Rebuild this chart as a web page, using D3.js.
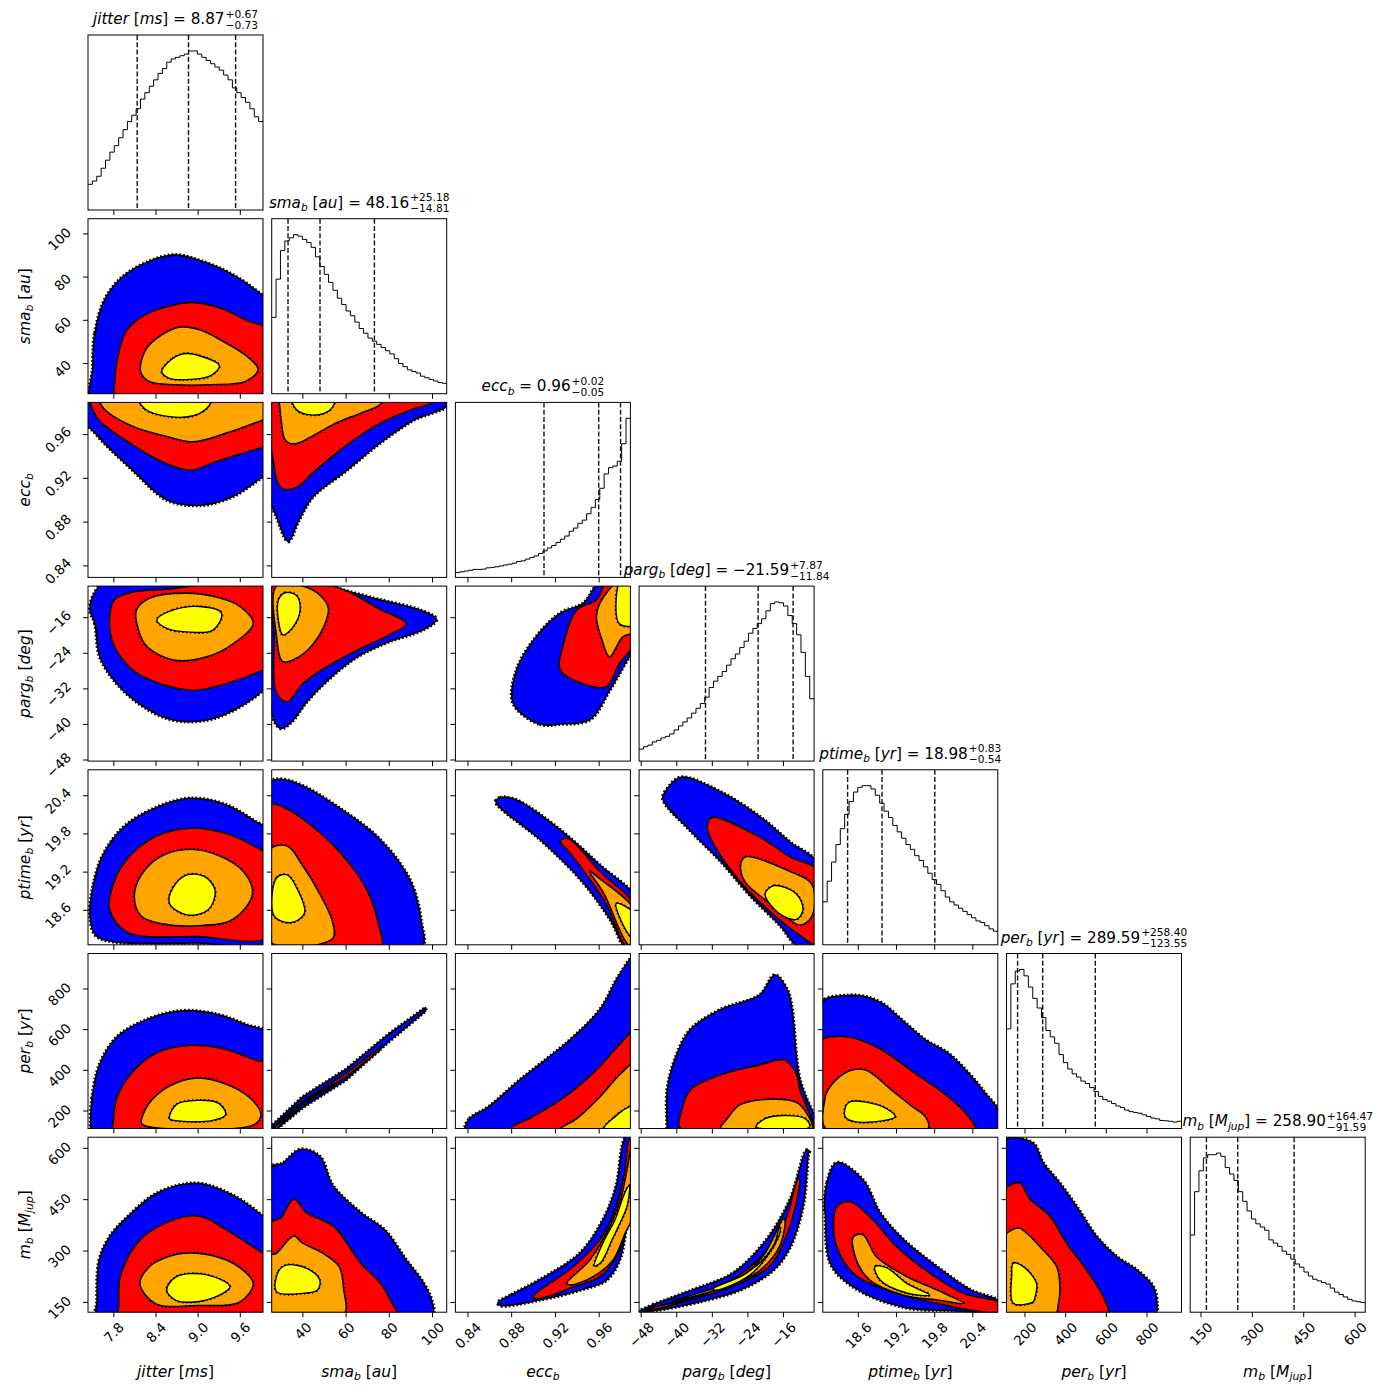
<!DOCTYPE html>
<html>
<head>
<meta charset="utf-8">
<script src="https://cdn.jsdelivr.net/npm/d3@7"></script>
<style>
body { margin: 0; background: #fff; }
svg text { font-family: "DejaVu Sans", sans-serif; fill: #000; }
</style>
</head>
<body>
<svg id="chart" width="1400" height="1400"></svg>
<script>
// ---- parameters (order = corner order) ----
var labelSegs = [
    [["jitter", "i"], [" [", "n"], ["ms", "i"], ["]", "n"]],
    [["sma", "i"], ["b", "s"], [" [", "n"], ["au", "i"], ["]", "n"]],
    [["ecc", "i"], ["b", "s"]],
    [["parg", "i"], ["b", "s"], [" [", "n"], ["deg", "i"], ["]", "n"]],
    [["ptime", "i"], ["b", "s"], [" [", "n"], ["yr", "i"], ["]", "n"]],
    [["per", "i"], ["b", "s"], [" [", "n"], ["yr", "i"], ["]", "n"]],
    [["m", "i"], ["b", "s"], [" [", "n"], ["M", "i"], ["jup", "s"], ["]", "n"]]
];
var domains = [[7.44, 9.93], [25.8, 106.8], [0.829, 0.989], [-48.36, -9.0], [18.05, 20.8], [111.5, 972], [120, 631]];
var tickValues = [
    [7.8, 8.4, 9.0, 9.6], [40, 60, 80, 100], [0.84, 0.88, 0.92, 0.96],
    [-48, -40, -32, -24, -16], [18.6, 19.2, 19.8, 20.4], [200, 400, 600, 800], [150, 300, 450, 600]
];
var tickLabels = [
    ["7.8", "8.4", "9.0", "9.6"], ["40", "60", "80", "100"], ["0.84", "0.88", "0.92", "0.96"],
    ["\u221248", "\u221240", "\u221232", "\u221224", "\u221216"], ["18.6", "19.2", "19.8", "20.4"],
    ["200", "400", "600", "800"], ["150", "300", "450", "600"]
];
var medians = ["8.87", "48.16", "0.96", "\u221221.59", "18.98", "289.59", "258.90"];
var errPlus = ["0.67", "25.18", "0.02", "7.87", "0.83", "258.40", "164.47"];
var errMinus = ["0.73", "14.81", "0.05", "11.84", "0.54", "123.55", "91.59"];
var q16 = [8.14, 33.35, 0.91, -33.43, 18.44, 166.04, 167.31];
var q50 = [8.87, 48.16, 0.96, -21.59, 18.98, 289.59, 258.90];
var q84 = [9.54, 73.34, 0.98, -13.72, 19.81, 547.99, 423.37];

// ---- 1D histograms (relative counts, 40 bins over the axis range) ----
var hJitter = [16, 18, 21, 26, 31, 36, 40, 45, 50, 55, 59, 63, 69, 73, 77, 81, 85, 88, 92, 94, 95, 96, 97, 99, 99, 97, 95, 93, 91, 89, 87, 84, 81, 76, 73, 70, 67, 63, 58, 55];
var hSma = [48, 72, 90, 96, 98, 100, 99, 97, 95, 92, 86, 80, 75, 70, 65, 60, 56, 52, 49, 45, 41, 38, 35, 33, 31, 29, 27, 25, 22, 19, 17, 15, 14, 13, 11, 10, 9, 8, 7, 6.5];
var hEcc = [3, 3.5, 4, 4.5, 5, 5, 5.2, 6, 6.3, 6.7, 7.2, 7.8, 8.3, 9, 10, 10.4, 11.5, 12.5, 13.5, 15, 16.7, 18.5, 20, 22, 24, 26, 29, 31, 34, 36, 40, 44, 49, 56, 65, 69, 70, 73, 84, 100];
var hParg = [7.5, 9, 10, 12, 13, 14.5, 15.5, 17, 19.5, 22, 24.5, 27, 30, 33, 36, 40, 46, 50, 53, 56, 60, 64, 67, 71, 75, 80, 83, 86, 89, 94, 98.5, 99.5, 99, 97, 91, 86, 79, 68, 53, 39];
var hPtime = [27, 40, 52, 63, 73, 82, 90, 96, 99, 100, 100, 98, 94, 89, 84, 80, 75, 71, 67, 63, 60, 56, 53, 49, 45, 41, 38, 34, 30, 27, 25, 23, 21, 19, 17, 15, 14, 12, 10, 8.5];
var hPer = [62, 90, 98, 99, 95, 88, 81, 75, 69, 61, 57, 53, 46, 41, 37, 34, 32, 29.5, 28, 25.5, 23, 20, 18, 17, 15.5, 14, 13, 11.5, 10.5, 10, 9.5, 8.5, 7.5, 6.5, 6, 5, 4.8, 4.5, 4, 4.5];
var hM = [48, 75, 88, 96, 98, 98, 99, 97, 90, 86, 82, 75, 69, 63, 58, 55, 53, 51, 45, 43, 41, 38, 36, 33, 30, 28, 25, 22.5, 20.5, 19.5, 18.5, 17.5, 15, 12.5, 11, 9.5, 8, 7, 6.5, 6];
var hists = [hJitter, hSma, hEcc, hParg, hPtime, hPer, hM];

// ---- 2D contour outlines [x, y] in data units: blue (outer), red, orange, yellow ----
var ctrSmaJitter = [
    [[7.51, 38], [7.54, 54], [7.69, 70], [7.94, 80], [8.31, 87], [8.69, 90], [9.06, 87], [9.43, 82], [9.81, 74], [10.05, 66], [10.05, 20], [7.51, 20]],
    [[7.81, 26], [7.86, 42], [7.99, 55], [8.24, 62], [8.56, 66], [8.93, 68], [9.31, 65.5], [9.68, 60], [10.05, 54], [10.05, 20], [7.81, 20]],
    [[8.19, 36], [8.26, 46], [8.49, 53], [8.76, 56.6], [9.06, 55], [9.36, 50], [9.68, 43.6], [9.86, 37], [9.68, 31.5], [9.18, 30], [8.69, 30], [8.31, 31.5]],
    [[8.49, 36], [8.64, 42], [8.83, 44.4], [9.08, 42.8], [9.31, 38.8], [9.18, 34], [8.83, 32.3], [8.59, 33]]
];
var ctrEccJitter = [
    [[7.3, 0.995], [7.3, 0.97], [7.44, 0.967], [7.7, 0.95], [8.08, 0.927], [8.56, 0.9], [9.03, 0.895], [9.5, 0.903], [9.93, 0.921], [10.05, 0.925], [10.05, 0.995]],
    [[7.5, 0.995], [7.56, 0.976], [8.08, 0.95], [8.56, 0.933], [8.89, 0.927], [9.27, 0.935], [9.93, 0.948], [10.05, 0.95], [10.05, 0.995]],
    [[7.6, 0.995], [7.66, 0.984], [8.08, 0.967], [8.56, 0.958], [8.94, 0.953], [9.41, 0.961], [9.93, 0.973], [10.05, 0.976], [10.05, 0.995]],
    [[8.15, 0.995], [8.25, 0.983], [8.6, 0.976], [8.95, 0.977], [9.15, 0.985], [9.2, 0.995]]
];
var ctrPargJitter = [
    [[7.47, -14.4], [7.54, -17.4], [7.61, -24.9], [7.85, -30.9], [8.23, -36.1], [8.65, -39.1], [9.13, -39.1], [9.51, -36.9], [9.93, -32.4], [10.05, -30], [10.05, -8], [7.7, -8], [7.52, -11]],
    [[7.82, -12], [7.75, -15.9], [7.8, -21.9], [8.08, -27.9], [8.46, -30.9], [8.94, -32.4], [9.41, -30.9], [9.93, -27.9], [10.05, -27], [10.05, -9.6], [8.5, -9.8], [8.1, -10.3]],
    [[8.13, -14.4], [8.32, -11.7], [8.84, -10.6], [9.32, -11.7], [9.6, -13.6], [9.79, -17.4], [9.51, -21.9], [9.13, -24.9], [8.65, -25.6], [8.28, -22.6], [8.16, -18.9]],
    [[8.42, -16.6], [8.65, -14.4], [9.03, -13.6], [9.34, -15.1], [9.22, -18.9], [8.84, -19.3], [8.56, -18.5]]
];
var ctrPtimeJitter = [
    [[7.47, 18.5], [7.52, 19.0], [7.65, 19.45], [7.95, 19.9], [8.4, 20.2], [8.9, 20.35], [9.4, 20.25], [9.8, 20.0], [10.05, 19.8], [10.05, 18.08], [9.0, 18.08], [7.8, 18.1], [7.55, 18.2]],
    [[7.75, 18.6], [7.8, 19.0], [8.0, 19.4], [8.4, 19.75], [8.9, 19.88], [9.4, 19.8], [9.8, 19.6], [10.05, 19.4], [10.05, 18.2], [9.0, 18.18], [8.0, 18.25]],
    [[8.1, 18.8], [8.2, 19.15], [8.5, 19.45], [8.9, 19.55], [9.3, 19.45], [9.65, 19.2], [9.78, 18.85], [9.5, 18.45], [9.0, 18.35], [8.5, 18.38], [8.2, 18.5]],
    [[8.6, 18.7], [8.65, 18.95], [8.85, 19.15], [9.1, 19.12], [9.25, 18.9], [9.15, 18.6], [8.85, 18.52]]
];
var ctrPerJitter = [
    [[7.48, 140], [7.5, 260], [7.6, 420], [7.85, 560], [8.3, 650], [8.8, 690], [9.3, 670], [9.7, 620], [10.05, 570], [10.05, 100], [7.5, 100]],
    [[7.8, 140], [7.85, 260], [8.05, 380], [8.4, 480], [8.9, 520], [9.4, 500], [9.8, 450], [10.05, 420], [10.05, 100], [7.8, 100]],
    [[8.2, 140], [8.3, 230], [8.6, 320], [9.0, 360], [9.4, 330], [9.75, 260], [9.9, 180], [9.8, 130], [8.25, 125]],
    [[8.6, 160], [8.7, 230], [9.0, 250], [9.3, 235], [9.4, 180], [9.2, 150], [8.7, 150]]
];
var ctrMJitter = [
    [[7.57, 150], [7.6, 270], [7.75, 340], [7.99, 395], [8.42, 467], [8.99, 496], [9.51, 460], [9.93, 400], [10.05, 380], [10.05, 110], [7.57, 110]],
    [[7.88, 140], [7.9, 224], [8.18, 331], [8.65, 389], [9.03, 400], [9.41, 360], [9.93, 292], [10.05, 280], [10.05, 110], [7.88, 110]],
    [[8.18, 204], [8.3, 250], [8.46, 272], [8.8, 292], [9.27, 282], [9.6, 250], [9.79, 204], [9.6, 150], [9.0, 140], [8.4, 145]],
    [[8.56, 185], [8.7, 224], [9.13, 229], [9.46, 194], [9.13, 156], [8.7, 154]]
];
var ctrEccSma = [
    [[25, 0.995], [25, 0.9], [28, 0.885], [33.5, 0.862], [38, 0.88], [45, 0.903], [60.5, 0.927], [76, 0.952], [91.5, 0.973], [107, 0.986], [108, 0.995]],
    [[27.5, 0.995], [27, 0.93], [29, 0.914], [31, 0.91], [37, 0.911], [45, 0.925], [60.5, 0.95], [76, 0.97], [91.5, 0.983], [100, 0.989], [100, 0.995]],
    [[29.5, 0.995], [29.6, 0.985], [30.4, 0.97], [32, 0.955], [35.8, 0.951], [43.5, 0.957], [54.3, 0.969], [66.7, 0.979], [76, 0.987], [78, 0.995]],
    [[35, 0.995], [37, 0.983], [42, 0.978], [50, 0.979], [54, 0.985], [55, 0.995]]
];
var ctrPargSma = [
    [[25, -8], [40, -8], [55, -9.5], [75, -12], [95, -14.5], [102, -16.5], [95, -19], [80, -21.5], [65, -25], [52, -30], [42, -35], [35, -39.5], [30, -41], [26, -38], [25, -30]],
    [[27, -8], [45, -8], [60, -10], [75, -14], [88, -17.5], [80, -20], [65, -23.5], [50, -27.5], [40, -31], [33, -35], [28, -33], [27, -20]],
    [[28, -9], [40, -9], [48, -11], [52, -14], [50, -18], [45, -22], [38, -25], [31, -26], [28, -20]],
    [[29, -12], [32, -10.5], [37, -11], [39, -14], [36, -18], [31, -20], [29, -17]]
];
var ctrPtimeSma = [
    [[25, 18.0], [25, 20.6], [30, 20.65], [40, 20.55], [57, 20.2], [76, 19.7], [90, 19.05], [95, 18.4], [95, 18.0]],
    [[25, 18.0], [25, 20.25], [32, 20.2], [45, 19.9], [60, 19.4], [70, 18.9], [75, 18.4], [76, 18.0]],
    [[25, 18.1], [25, 19.55], [33, 19.6], [40, 19.3], [48, 18.85], [54, 18.4], [54, 18.15]],
    [[27, 18.5], [28, 19.1], [33, 19.15], [38, 18.9], [41, 18.55], [35, 18.4]]
];
var ctrPerSma = [
    [[25, 115], [40, 265], [60, 400], [80, 575], [97, 705], [97, 690], [80, 540], [60, 350], [40, 215], [27, 100]],
    [[27, 120], [40, 245], [60, 380], [76, 510], [76, 498], [60, 365], [40, 232], [28, 108]],
    [[27, 115], [40, 240], [55, 335], [55, 328], [40, 234], [28, 110]],
    [[27, 113], [35, 190], [35, 186], [28, 110]]
];
var ctrMSma = [
    [[25, 110], [25, 540], [31, 555], [39, 595], [48, 575], [54, 490], [67, 410], [78, 360], [88, 272], [96, 205], [100, 150], [100, 110]],
    [[25, 110], [25, 380], [30, 395], [36, 450], [42, 410], [54.5, 370], [67, 263], [76, 205], [82, 140], [84, 110]],
    [[25, 110], [25, 285], [28, 292], [36, 342], [40, 322], [50, 290], [57, 253], [59, 190], [59, 110]],
    [[28, 180], [29, 240], [33, 258], [42, 248], [48, 215], [47, 185], [40, 175]]
];
var ctrPargEcc = [
    [[0.882, -35.4], [0.906, -40], [0.925, -40], [0.952, -39], [0.97, -32.4], [0.986, -25.6], [0.995, -22], [0.995, -8], [0.962, -8], [0.946, -12.9], [0.925, -15.1], [0.903, -20.4], [0.885, -27.9]],
    [[0.925, -27.9], [0.946, -31], [0.967, -31.6], [0.979, -26.4], [0.995, -21], [0.995, -8], [0.968, -8], [0.958, -12.1], [0.94, -14.4], [0.928, -21.9]],
    [[0.961, -12.9], [0.958, -16], [0.963, -21], [0.97, -24.9], [0.982, -20.4], [0.995, -19], [0.995, -8], [0.978, -8]],
    [[0.979, -17.5], [0.976, -12], [0.98, -8], [0.995, -8], [0.995, -17.5]]
];
var ctrPtimeEcc = [
    [[0.866, 20.3], [0.87, 20.36], [0.884, 20.33], [0.925, 19.85], [0.961, 19.3], [0.995, 18.75], [0.995, 18.0], [0.985, 18.0], [0.971, 18.44], [0.944, 19.07], [0.907, 19.7]],
    [[0.925, 19.68], [0.932, 19.72], [0.961, 19.2], [0.995, 18.62], [0.995, 18.0], [0.986, 18.0], [0.966, 18.72], [0.936, 19.45]],
    [[0.952, 19.2], [0.96, 19.1], [0.995, 18.55], [0.995, 18.0], [0.987, 18.05], [0.965, 18.85]],
    [[0.976, 18.7], [0.995, 18.5], [0.995, 18.1], [0.986, 18.25]]
];
var ctrPerEcc = [
    [[0.838, 120], [0.842, 160], [0.86, 220], [0.888, 350], [0.934, 547], [0.961, 694], [0.979, 866], [0.995, 970], [0.995, 100], [0.838, 100]],
    [[0.88, 115], [0.9, 170], [0.93, 270], [0.96, 410], [0.98, 530], [0.995, 600], [0.995, 100], [0.88, 100]],
    [[0.925, 110], [0.94, 160], [0.96, 260], [0.98, 380], [0.995, 440], [0.995, 100], [0.925, 100]],
    [[0.965, 115], [0.975, 170], [0.985, 210], [0.995, 230], [0.995, 100], [0.968, 100]]
];
var ctrMEcc = [
    [[0.868, 148], [0.88, 170], [0.906, 214], [0.943, 292], [0.964, 389], [0.976, 486], [0.984, 628], [0.992, 650], [0.992, 420], [0.987, 389], [0.979, 272], [0.967, 214], [0.943, 185], [0.906, 156], [0.87, 140]],
    [[0.9, 165], [0.937, 253], [0.961, 331], [0.976, 428], [0.984, 535], [0.988, 625], [0.991, 625], [0.991, 420], [0.985, 370], [0.976, 282], [0.961, 224], [0.937, 194], [0.905, 160]],
    [[0.931, 204], [0.952, 272], [0.967, 350], [0.979, 438], [0.986, 535], [0.99, 600], [0.991, 600], [0.991, 400], [0.984, 350], [0.973, 272], [0.955, 224], [0.935, 200]],
    [[0.956, 255], [0.965, 330], [0.975, 390], [0.984, 470], [0.988, 490], [0.986, 430], [0.978, 370], [0.972, 330], [0.962, 265]]
];
var ctrPtimeParg = [
    [[-43, 20.35], [-42, 20.5], [-39, 20.68], [-30, 20.45], [-21, 20.05], [-14.4, 19.66], [-8, 19.3], [-8, 18.0], [-12.2, 18.0], [-16.7, 18.36], [-23.4, 18.83], [-30.2, 19.38], [-36.9, 19.85]],
    [[-33, 19.9], [-32, 20.05], [-21.2, 19.74], [-14.4, 19.43], [-8, 19.2], [-8, 18.05], [-12.2, 18.2], [-19, 18.58], [-25.7, 19.05], [-31.3, 19.6]],
    [[-25.5, 19.3], [-24.5, 19.43], [-14.4, 19.2], [-9.5, 19.0], [-9.5, 18.5], [-12.2, 18.36], [-17.9, 18.65], [-24.5, 19.04]],
    [[-20, 18.85], [-18, 18.98], [-13, 18.85], [-11.5, 18.6], [-13, 18.45], [-17, 18.55]]
];
var ctrPerParg = [
    [[-42, 110], [-42, 300], [-40.3, 450], [-36.9, 595], [-30.2, 694], [-21.2, 768], [-17.8, 866], [-15, 790], [-14, 700], [-12.2, 350], [-9, 178], [-8, 140], [-8, 100], [-42, 100]],
    [[-39, 110], [-38.7, 203], [-36.9, 300], [-30.2, 374], [-21.2, 424], [-15.6, 448], [-13, 380], [-12.2, 300], [-9.5, 154], [-9, 110]],
    [[-30, 110], [-28.5, 160], [-25.7, 227], [-19, 255], [-13, 240], [-10.5, 180], [-9.5, 110]],
    [[-22, 120], [-20, 160], [-15, 175], [-11, 160], [-10, 120]]
];
var ctrMParg = [
    [[-48.5, 121], [-45.2, 141], [-36.2, 185], [-27.2, 234], [-19.7, 331], [-14.4, 448], [-10.7, 593], [-10.1, 590], [-10.3, 584], [-11.4, 438], [-14.4, 311], [-18.2, 243], [-25.7, 185], [-34.7, 151], [-44.4, 126]],
    [[-47, 127], [-44.4, 137], [-34.7, 166], [-25.7, 230], [-19.2, 305], [-15.2, 395], [-12.6, 510], [-12.3, 508], [-12.9, 448], [-15.2, 345], [-18.9, 256], [-27.2, 196], [-36.2, 158], [-44.4, 130]],
    [[-41, 152], [-33.2, 183], [-25.7, 220], [-20.4, 285], [-15.9, 392], [-15.6, 390], [-16.7, 315], [-21.2, 242], [-27.2, 202], [-36.2, 166]],
    [[-31.7, 188], [-24.2, 234], [-18.2, 310], [-16.8, 370], [-16.6, 360], [-17.6, 325], [-23.4, 229], [-31.3, 184]]
];
var ctrPerPtime = [
    [[18.0, 700], [18.08, 745], [18.4, 765], [18.71, 760], [18.98, 727], [19.29, 645], [19.66, 547], [20.02, 481], [20.34, 383], [20.6, 285], [20.85, 180], [20.85, 100], [18.0, 100]],
    [[18.0, 540], [18.24, 563], [18.55, 555], [18.98, 497], [19.5, 383], [20.02, 268], [20.34, 170], [20.45, 100], [18.0, 100]],
    [[18.08, 250], [18.13, 300], [18.39, 383], [18.71, 400], [19.13, 300], [19.45, 220], [19.66, 170], [19.7, 110], [18.1, 110]],
    [[18.42, 227], [18.5, 245], [18.98, 220], [19.19, 170], [19.0, 150], [18.55, 145], [18.4, 170]]
];
var ctrMPtime = [
    [[18.08, 420], [18.12, 500], [18.27, 556], [18.68, 506], [18.95, 409], [19.32, 331], [19.84, 253], [20.37, 185], [20.85, 148], [20.85, 118], [20.1, 125], [19.32, 135], [18.53, 194], [18.17, 263], [18.09, 409]],
    [[18.27, 428], [18.47, 443], [18.84, 389], [19.21, 311], [19.73, 234], [20.26, 175], [20.85, 145], [20.85, 122], [20.58, 121], [19.84, 146], [19.05, 185], [18.53, 234], [18.27, 311], [18.22, 380]],
    [[18.53, 340], [18.68, 346], [18.89, 282], [19.37, 224], [19.84, 185], [20.26, 146], [19.84, 156], [19.32, 170], [18.79, 214], [18.58, 272]],
    [[18.87, 253], [19.05, 250], [19.37, 204], [19.73, 170], [19.37, 176], [18.95, 214]]
];
var ctrMPer = [
    [[100, 600], [115, 625], [128, 630], [243, 613], [292, 555], [374, 496], [456, 428], [555, 340], [653, 282], [752, 243], [833, 194], [850, 150], [840, 110], [100, 110]],
    [[100, 480], [128, 490], [177, 498], [227, 450], [325, 400], [407, 321], [505, 243], [587, 165], [610, 110], [100, 110]],
    [[100, 340], [145, 362], [177, 365], [292, 301], [358, 253], [374, 185], [365, 140], [350, 110], [100, 110]],
    [[137, 224], [145, 263], [194, 253], [259, 204], [250, 160], [243, 150], [145, 146]]
];

// which contour set goes in which (row, col) panel
var contourPanels = [
    {r: 1, c: 0, lv: ctrSmaJitter}, {r: 2, c: 0, lv: ctrEccJitter}, {r: 3, c: 0, lv: ctrPargJitter},
    {r: 4, c: 0, lv: ctrPtimeJitter}, {r: 5, c: 0, lv: ctrPerJitter}, {r: 6, c: 0, lv: ctrMJitter},
    {r: 2, c: 1, lv: ctrEccSma}, {r: 3, c: 1, lv: ctrPargSma}, {r: 4, c: 1, lv: ctrPtimeSma},
    {r: 5, c: 1, lv: ctrPerSma, thin: true}, {r: 6, c: 1, lv: ctrMSma},
    {r: 3, c: 2, lv: ctrPargEcc}, {r: 4, c: 2, lv: ctrPtimeEcc}, {r: 5, c: 2, lv: ctrPerEcc}, {r: 6, c: 2, lv: ctrMEcc},
    {r: 4, c: 3, lv: ctrPtimeParg}, {r: 5, c: 3, lv: ctrPerParg}, {r: 6, c: 3, lv: ctrMParg},
    {r: 5, c: 4, lv: ctrPerPtime}, {r: 6, c: 4, lv: ctrMPtime},
    {r: 6, c: 5, lv: ctrMPer}
];
var levelColors = ["#0000ff", "#ff0000", "#ffa500", "#ffff00"];

// ---- layout ----
var L0 = 88, T0 = 35, STEP = 183.7, S = 175;
var tickFs = 13.5, titleFs = 15.2, labelFs = 15.5;
var N = domains.length;

var svg = d3.select("#chart");
var defs = svg.append("defs");

var xs = domains.map(function (d) { return d3.scaleLinear().domain(d).range([0, S]); });
var ys = domains.map(function (d) { return d3.scaleLinear().domain(d).range([S, 0]); });

function panelX(c) { return L0 + c * STEP; }
function panelY(r) { return T0 + r * STEP; }

// italic / normal / subscript pieces of a mathtext style label
function addSegs(text, segs, fs) {
    var shift = 0;
    segs.forEach(function (s) {
        var sub = s[1] === "s";
        var target = sub ? fs * 0.22 : 0;
        text.append("tspan")
            .text(s[0])
            .attr("font-style", s[1] === "n" ? "normal" : "italic")
            .attr("font-size", sub ? fs * 0.7 : fs)
            .attr("dy", target - shift);
        shift = target;
    });
    return shift;
}

function drawHist(g, i) {
    var vals = hists[i];
    var x = xs[i];
    var edges = d3.range(vals.length + 1).map(function (k) {
        return domains[i][0] + k * (domains[i][1] - domains[i][0]) / vals.length;
    });
    var y = d3.scaleLinear().domain([0, d3.max(vals) * 1.1]).range([S, 0]);
    var pts = vals.map(function (v, k) { return [edges[k], v]; });
    pts.push([edges[vals.length], vals[vals.length - 1]]);

    g.append("path")
        .attr("d", d3.line().x(function (d) { return x(d[0]); }).y(function (d) { return y(d[1]); }).curve(d3.curveStepAfter)(pts))
        .attr("fill", "none")
        .attr("stroke", "#000")
        .attr("stroke-width", 1);

    [q16[i], q50[i], q84[i]].forEach(function (q) {
        g.append("line")
            .attr("x1", x(q)).attr("x2", x(q))
            .attr("y1", 0).attr("y2", S)
            .attr("stroke", "#111")
            .attr("stroke-width", 1.4)
            .attr("stroke-dasharray", "5,2.3");
    });
}

function drawContours(g, p) {
    var line = d3.line()
        .x(function (d) { return xs[p.c](d[0]); })
        .y(function (d) { return ys[p.r](d[1]); })
        .curve(p.thin ? d3.curveLinearClosed : d3.curveCatmullRomClosed.alpha(0.5));

    p.lv.forEach(function (poly, k) {
        // ragged black rim of sparse samples around each level
        g.append("path")
            .attr("d", line(poly))
            .attr("fill", "none")
            .attr("stroke", "#000")
            .attr("stroke-width", k === 0 ? 4 : 2.6)
            .attr("stroke-dasharray", k === 0 ? "1.6,2.2" : "1.4,2.6");
        g.append("path")
            .attr("d", line(poly))
            .attr("fill", levelColors[k])
            .attr("stroke", "#000")
            .attr("stroke-width", k === 0 ? 1.8 : 1.4)
            .attr("stroke-linejoin", "round");
    });
}

function styleAxis(ax) {
    ax.select(".domain").remove();
    ax.attr("font-family", "DejaVu Sans").attr("font-size", tickFs);
    ax.selectAll(".tick line").attr("stroke", "#000").attr("stroke-width", 1);
}

// ---- panels ----
for (var r = 0; r < N; r++) {
    for (var c = 0; c <= r; c++) {
        var g = svg.append("g").attr("transform", "translate(" + panelX(c) + "," + panelY(r) + ")");
        var clipId = "clip-" + r + "-" + c;
        defs.append("clipPath").attr("id", clipId).append("rect").attr("width", S).attr("height", S);
        var inner = g.append("g").attr("clip-path", "url(#" + clipId + ")");

        if (r === c) {
            drawHist(inner, r);
        } else {
            var p = contourPanels.filter(function (d) { return d.r === r && d.c === c; })[0];
            drawContours(inner, p);
        }

        g.append("rect")
            .attr("width", S).attr("height", S)
            .attr("fill", "none")
            .attr("stroke", "#000")
            .attr("stroke-width", 1);

        // bottom axis
        var cc = c;
        var bx = g.append("g")
            .attr("transform", "translate(0," + S + ")")
            .call(d3.axisBottom(xs[c]).tickValues(tickValues[c]).tickSize(5)
                .tickFormat(r === N - 1 ? function (d, k) { return tickLabels[cc][k]; } : function () { return ""; }));
        styleAxis(bx);
        bx.selectAll(".tick text")
            .attr("y", null).attr("dy", null)
            .attr("text-anchor", "middle")
            .attr("dominant-baseline", "central")
            .attr("transform", function () {
                var w = this.getComputedTextLength();
                var sz = (w + 0.73 * tickFs) / Math.SQRT2;
                return "translate(0," + (9 + sz / 2) + ") rotate(-45)";
            });

        // left axis for 2D panels
        if (c < r) {
            var rr = r;
            var lx = g.append("g")
                .call(d3.axisLeft(ys[r]).tickValues(tickValues[r]).tickSize(5)
                    .tickFormat(c === 0 ? function (d, k) { return tickLabels[rr][k]; } : function () { return ""; }));
            styleAxis(lx);
            lx.selectAll(".tick text")
                .attr("x", null).attr("dy", null)
                .attr("text-anchor", "middle")
                .attr("dominant-baseline", "central")
                .attr("transform", function () {
                    var w = this.getComputedTextLength();
                    var sz = (w + 0.73 * tickFs) / Math.SQRT2;
                    return "translate(" + (-16 - sz / 2) + ",5) rotate(-45)";
                });
        }
    }
}

// ---- titles above the diagonal ----
for (var i = 0; i < N; i++) {
    var tg = svg.append("g");
    var t = tg.append("text").attr("font-size", titleFs);
    var sh = addSegs(t, labelSegs[i], titleFs);
    t.append("tspan").attr("font-style", "normal").attr("font-size", titleFs).attr("dy", -sh).text(" = " + medians[i]);
    var w = t.node().getComputedTextLength();
    var sup = tg.append("text").attr("x", w + 1).attr("y", -0.42 * titleFs).attr("font-size", titleFs * 0.7).text("+" + errPlus[i]);
    var sub = tg.append("text").attr("x", w + 1).attr("y", 0.3 * titleFs).attr("font-size", titleFs * 0.7).text("\u2212" + errMinus[i]);
    var total = w + 1 + Math.max(sup.node().getComputedTextLength(), sub.node().getComputedTextLength());
    tg.attr("transform", "translate(" + (panelX(i) + S / 2 - total / 2) + "," + (panelY(i) - 11) + ")");
}

// ---- axis labels ----
for (var j = 0; j < N; j++) {
    var xl = svg.append("text")
        .attr("x", panelX(j) + S / 2)
        .attr("y", 1377)
        .attr("text-anchor", "middle")
        .attr("font-size", labelFs);
    addSegs(xl, labelSegs[j], labelFs);
    if (j > 0) {
        var yl = svg.append("text")
            .attr("transform", "translate(30," + (panelY(j) + S / 2) + ") rotate(-90)")
            .attr("text-anchor", "middle")
            .attr("font-size", labelFs);
        addSegs(yl, labelSegs[j], labelFs);
    }
}
</script>
</body>
</html>
